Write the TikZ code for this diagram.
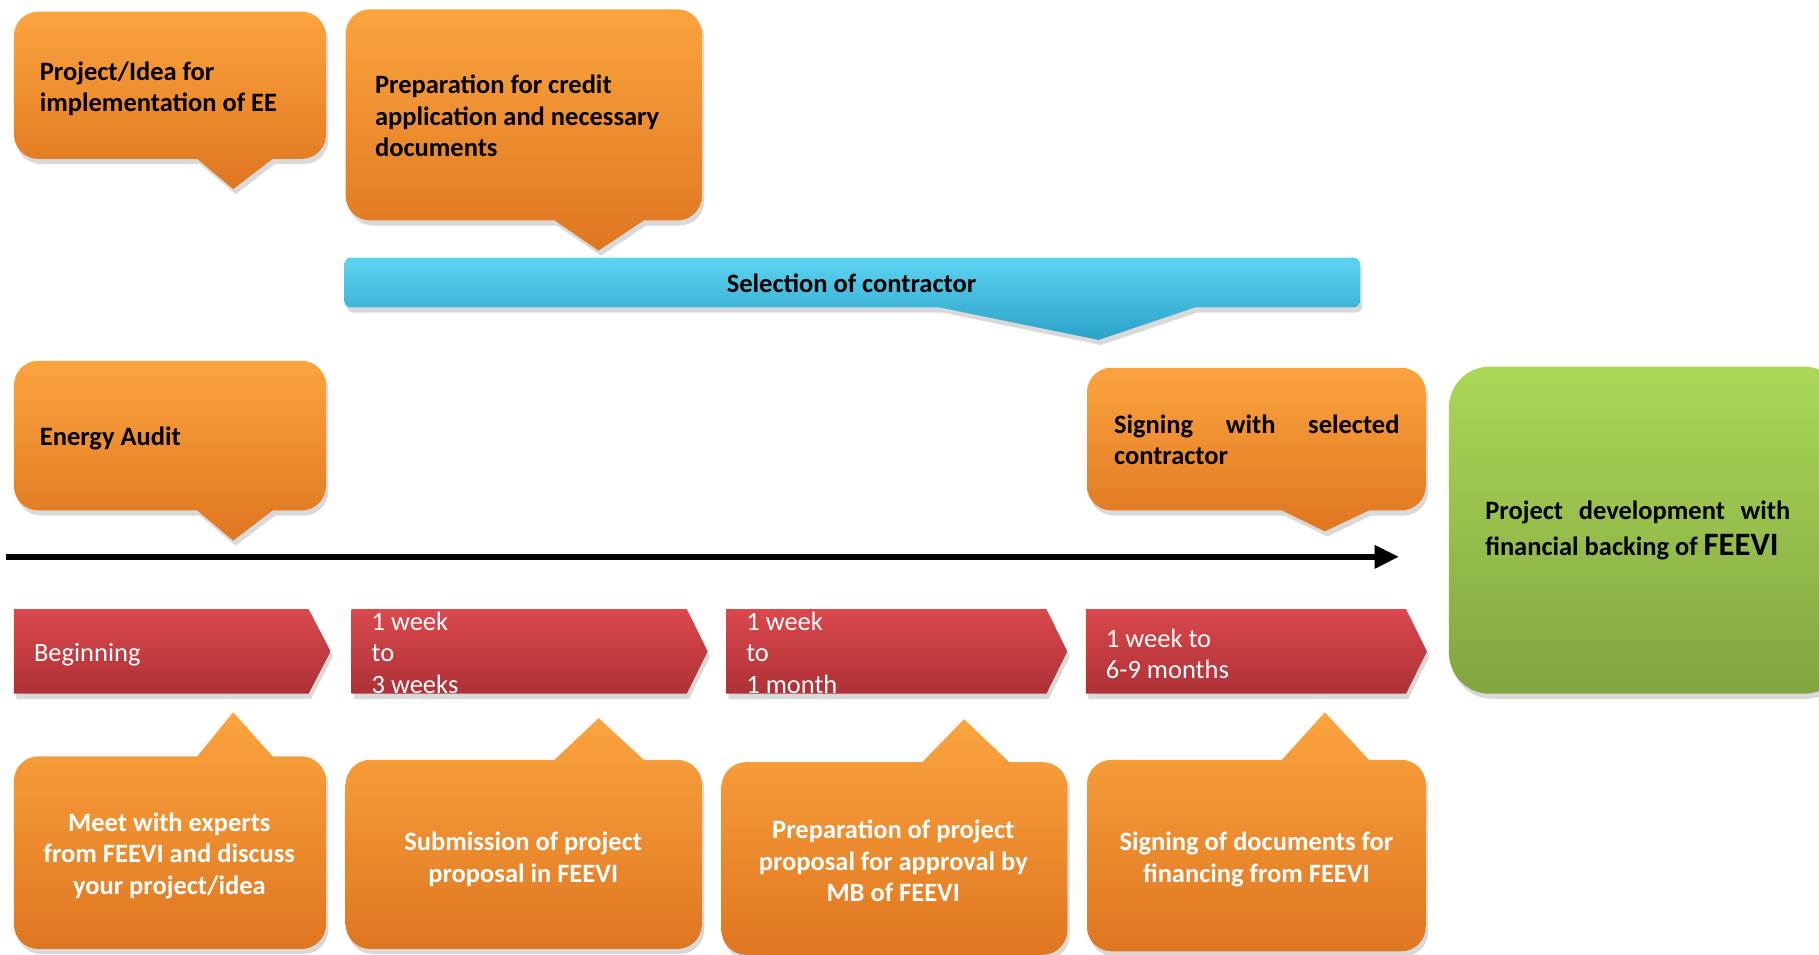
\documentclass[tikz,border=0pt]{standalone}
\usepackage{fontspec}
\setmainfont{Carlito}
\usepackage{tikz}
\usetikzlibrary{arrows.meta}
\usetikzlibrary{shadows}

\definecolor{ortop}{HTML}{FBA43F}
\definecolor{orbot}{HTML}{DF7620}
\definecolor{redtop}{HTML}{DA484C}
\definecolor{redbot}{HTML}{AD3136}
\definecolor{bltop}{HTML}{5ED3F1}
\definecolor{blbot}{HTML}{2AA2C8}
\definecolor{grtop}{HTML}{AAD858}
\definecolor{grbot}{HTML}{82A540}

\tikzset{
  softshadow/.style={drop shadow={opacity=0.3, shadow xshift=1.2pt, shadow yshift=-2.5pt}},
  orangebox/.style={top color=ortop, bottom color=orbot, softshadow},
  redarrow/.style={top color=redtop, bottom color=redbot, softshadow},
  bluebar/.style={top color=bltop, bottom color=blbot, softshadow},
  greenbox/.style={top color=grtop, bottom color=grbot, softshadow},
  boxtext/.style={font=\bfseries\fontsize{13}{15.5}\selectfont, inner sep=0pt, align=left},
  whitetext/.style={boxtext, text=white, align=center},
  steptext/.style={font=\fontsize{13}{15.5}\selectfont, inner sep=0pt, align=left, text=white},
  timeline/.style={line width=2.9pt, -{Triangle[length=0.42cm, width=0.38cm]}}
}

\begin{document}
\begin{tikzpicture}[x=0.02cm, y=-0.02cm]
    \useasboundingbox (0,0) rectangle (1568,823);
    % callouts above the time line
    \shade[orangebox] (12,73) [rounded corners=12pt] -- (12,10) -- (281,10) -- (281,137) [sharp corners] -- (235,137) -- (201,163) -- (170,137) [rounded corners=12pt] -- (12,137) -- cycle;
    \shade[orangebox] (298,99) [rounded corners=12pt] -- (298,8) -- (605,8) -- (605,190) [sharp corners] -- (555,190) -- (516,216) -- (478,190) [rounded corners=12pt] -- (298,190) -- cycle;
    \shade[bluebar] (297,243) [rounded corners=3pt] -- (297,222) -- (1172,222) -- (1172,265) [sharp corners] -- (1030,265) -- (947,293) -- (810,265) [rounded corners=3pt] -- (297,265) -- cycle;
    \shade[orangebox] (12,375) [rounded corners=12pt] -- (12,311) -- (281,311) -- (281,440) [sharp corners] -- (235,440) -- (201,466) -- (170,440) [rounded corners=12pt] -- (12,440) -- cycle;
    \shade[orangebox] (937,378) [rounded corners=12pt] -- (937,317) -- (1229,317) -- (1229,440) [sharp corners] -- (1180,440) -- (1142,458) -- (1105,440) [rounded corners=12pt] -- (937,440) -- cycle;
    \shade[greenbox, rounded corners=20pt] (1249,316) rectangle (1590,598);

    \node[boxtext, anchor=west] (idea) at (34,76.5) {Project/Idea for\\implementation of EE};
    \node[boxtext, anchor=west] (credit) at (323,100) {Preparation for credit\\application and necessary\\documents};
    \node[boxtext] (contractor) at (734,244) {Selection of contractor};
    \node[boxtext, anchor=west] (audit) at (34,378) {Energy Audit};
    \node[boxtext, anchor=west, text width=4.92cm, align=justify] (signing) at (960,379) {Signing with selected\linebreak contractor};
    \node[boxtext, anchor=west, text width=5.26cm, align=justify, font=\bfseries\fontsize{13}{17.5}\selectfont] (backing) at (1280,457) {Project development with\linebreak financial backing of {\fontsize{16}{18}\selectfont FEEVI}};

    % time line
    \coordinate (start) at (5,480);
    \coordinate (stop) at (1206,480);
    \draw[timeline] (start) -- (stop);

    % durations
    \shade[redarrow] (12,525) -- (266,525) -- (285,561.5) -- (266,598) -- (12,598) -- cycle;
    \shade[redarrow] (303,525) -- (592,525) -- (610,561.5) -- (592,598) -- (303,598) -- cycle;
    \shade[redarrow] (626,525) -- (902,525) -- (920,561.5) -- (902,598) -- (626,598) -- cycle;
    \shade[redarrow] (936,525) -- (1212,525) -- (1230,561.5) -- (1212,598) -- (936,598) -- cycle;
    \node[steptext, anchor=west] (beginning) at (29,564.5) {Beginning};
    \node[steptext, anchor=west] (weeks) at (320,562.5) {1 week\\to\\3 weeks};
    \node[steptext, anchor=west] (month) at (643,562.5) {1 week\\to\\1 month};
    \node[steptext, anchor=west] (months) at (953,563.5) {1 week to\\6-9 months};

    % callouts below the time line
    \shade[orangebox] (12,735) [rounded corners=12pt] -- (12,652) [sharp corners] -- (170,652) -- (201,614) -- (235,652) [rounded corners=12pt] -- (281,652) -- (281,818) -- (12,818) -- cycle;
    \shade[orangebox] (298,736) [rounded corners=12pt] -- (298,655) [sharp corners] -- (478,655) -- (516,619) -- (555,655) [rounded corners=12pt] -- (605,655) -- (605,818) -- (298,818) -- cycle;
    \shade[orangebox] (622,740) [rounded corners=12pt] -- (622,657) [sharp corners] -- (795,657) -- (831,620) -- (870,657) [rounded corners=12pt] -- (920,657) -- (920,823) -- (622,823) -- cycle;
    \shade[orangebox] (937,737) [rounded corners=12pt] -- (937,655) [sharp corners] -- (1105,655) -- (1142,614) -- (1180,655) [rounded corners=12pt] -- (1229,655) -- (1229,820) -- (937,820) -- cycle;

    \node[whitetext] (experts) at (146,737.5) {Meet with experts\\from FEEVI and discuss\\your project/idea};
    \node[whitetext] (submission) at (451,740.5) {Submission of project\\proposal in FEEVI};
    \node[whitetext] (approval) at (770,742) {Preparation of project\\proposal for approval by\\MB of FEEVI};
    \node[whitetext] (financing) at (1083,741) {Signing of documents for\\financing from FEEVI};
\end{tikzpicture}
\end{document}
